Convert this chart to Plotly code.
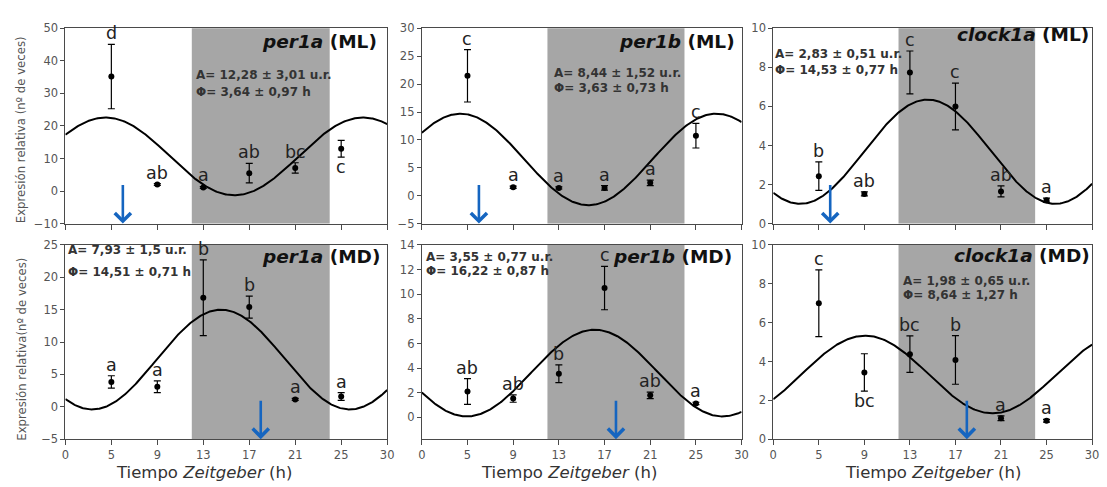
import numpy as np
import plotly.graph_objects as go

# ---------------- data ----------------
TICK_LABELS = [0, 5, 9, 13, 17, 21, 25, 30]          # labels shown on the ZT axis (evenly spaced)
ZT = [5, 9, 13, 17, 21, 25]                           # sampling times
NIGHT = [12, 24]                                      # dark phase (ZT)
FEED_ML = 6                                           # mid-light feeding time
FEED_MD = 18                                          # mid-dark feeding time

genes = ["per1a", "per1b", "clock1a", "per1a", "per1b", "clock1a"]
conds = ["ML", "ML", "ML", "MD", "MD", "MD"]

per1a_ML = [35.2, 2.0, 1.1, 5.5, 7.1, 13.0]
per1a_ML_err = [9.9, 0.3, 0.3, 3.0, 1.6, 2.6]
per1a_ML_let = ["d", "ab", "a", "ab", "bc", "c"]

per1b_ML = [21.5, 1.5, 1.4, 1.4, 2.3, 10.75]
per1b_ML_err = [4.7, 0.2, 0.2, 0.4, 0.5, 2.2]
per1b_ML_let = ["c", "a", "a", "a", "a", "c"]

clock1a_ML = [2.43, 1.52, 7.74, 6.0, 1.65, 1.2]
clock1a_ML_err = [0.73, 0.1, 1.1, 1.2, 0.28, 0.1]
clock1a_ML_let = ["b", "ab", "c", "c", "ab", "a"]

per1a_MD = [3.85, 3.1, 16.85, 15.4, 1.15, 1.6]
per1a_MD_err = [0.95, 0.9, 5.85, 1.7, 0.15, 0.6]
per1a_MD_let = ["a", "a", "b", "b", "a", "a"]

per1b_MD = [2.1, 1.53, 3.55, 10.5, 1.79, 1.13]
per1b_MD_err = [1.05, 0.3, 0.72, 1.76, 0.27, 0.1]
per1b_MD_let = ["ab", "ab", "b", "c", "ab", "a"]

clock1a_MD = [7.0, 3.44, 4.38, 4.08, 1.08, 0.95]
clock1a_MD_err = [1.72, 0.96, 0.94, 1.25, 0.12, 0.07]
clock1a_MD_let = ["c", "bc", "bc", "b", "a", "a"]

# letter placement: 'u' above the error bar, 'd' below
let_pos = [
    ["u", "u", "u", "u", "u", "d"],
    ["u"] * 6,
    ["u"] * 6,
    ["u"] * 6,
    ["u"] * 6,
    ["u", "d", "u", "u", "u", "u"],
]

# cosinor curves (as drawn)
MESOR = [10.65, 6.5, 3.68, 7.3, 3.6, 3.33]
AMP = [11.95, 8.2, 2.67, 7.7, 3.52, 2.0]
ACRO = [3.75, 3.63, 14.53, 14.51, 16.22, 8.64]
PERIOD = 24

stat_A = ["A= 12,28 ± 3,01 u.r.", "A= 8,44 ± 1,52 u.r.", "A= 2,83 ± 0,51 u.r.",
          "A= 7,93 ± 1,5 u.r.", "A= 3,55 ± 0,77 u.r.", "A= 1,98 ± 0,65 u.r."]
stat_P = ["Φ= 3,64 ± 0,97 h", "Φ= 3,63 ± 0,73 h", "Φ= 14,53 ± 0,77 h",
          "Φ= 14,51 ± 0,71 h", "Φ= 16,22 ± 0,87 h", "Φ= 8,64 ± 1,27 h"]

YRANGES = [[-10, 50], [-5, 30], [0, 10], [-5, 25], [-1.77, 14], [0, 10]]
YDTICK = [10, 5, 2, 5, 2, 2]

means = [per1a_ML, per1b_ML, clock1a_ML, per1a_MD, per1b_MD, clock1a_MD]
errs = [per1a_ML_err, per1b_ML_err, clock1a_ML_err, per1a_MD_err, per1b_MD_err, clock1a_MD_err]
lets = [per1a_ML_let, per1b_ML_let, clock1a_ML_let, per1a_MD_let, per1b_MD_let, clock1a_MD_let]
feeds = [FEED_ML, FEED_ML, FEED_ML, FEED_MD, FEED_MD, FEED_MD]

# ---------------- layout geometry ----------------
W, H = 1107, 487


def px_x(v):
    return v / W


def px_y(v):
    return 1 - v / H


XDOM = [[px_x(62), px_x(387)], [px_x(422), px_x(745)], [px_x(777), px_x(1099)]]
YDOM_TOP = [px_y(223), px_y(22)]
YDOM_BOT = [px_y(445), px_y(245)]

# positions in axis-domain fractions
title_pos = [(0.975, 0.935), (0.985, 0.935), (0.997, 0.97), (0.985, 0.94), (0.975, 0.94), (1.0, 0.945)]
stat_pos = [(0.40, 0.762, 0.673), (0.406, 0.772, 0.693), (0.0, 0.871, 0.787),
            (0.003, 0.975, 0.86), (0.006, 0.94, 0.865), (0.40, 0.815, 0.74)]
xtitle_x = [0.43, 0.46, 0.5]

AXMAX = 30.0
tickvals = [k * AXMAX / 7 for k in range(8)]


def zt_to_axis(v):
    return np.interp(v, TICK_LABELS, tickvals)


FONT = "DejaVu Sans, Arial, sans-serif"
GRAY_BAND = "#a6a6a6"
AXCOL = "#4a4a4a"
BLUE = "#1565c0"

fig = go.Figure()
shapes = []
annotations = []
layout = {}

t = np.linspace(0, AXMAX, 400)

for i in range(6):
    k = i + 1
    xa = "x" if k == 1 else f"x{k}"
    ya = "y" if k == 1 else f"y{k}"
    xkey = "xaxis" if k == 1 else f"xaxis{k}"
    ykey = "yaxis" if k == 1 else f"yaxis{k}"
    col = i % 3
    top = i < 3

    layout[xkey] = dict(
        domain=XDOM[col], anchor=ya, range=[0, AXMAX],
        tickmode="array", tickvals=tickvals,
        ticktext=[str(v) for v in TICK_LABELS],
        showticklabels=not top,
        ticks="outside", ticklen=5, tickcolor=AXCOL, tickwidth=1,
        showline=True, linecolor=AXCOL, linewidth=1, mirror=True,
        showgrid=False, zeroline=False,
        tickfont=dict(family=FONT, size=11.5, color="#555555"),
    )
    layout[ykey] = dict(
        domain=YDOM_TOP if top else YDOM_BOT, anchor=xa, range=YRANGES[i],
        tick0=0, dtick=YDTICK[i],
        ticks="outside", ticklen=4, tickcolor=AXCOL, tickwidth=1,
        showline=True, linecolor=AXCOL, linewidth=1, mirror=True,
        showgrid=False, zeroline=False,
        tickfont=dict(family=FONT, size=11.5, color="#555555"),
    )

    # dark phase band
    shapes.append(dict(type="rect", xref=xa, yref=f"{ya} domain",
                       x0=zt_to_axis(NIGHT[0]), x1=zt_to_axis(NIGHT[1]), y0=0, y1=1,
                       fillcolor=GRAY_BAND, line=dict(width=0), layer="below"))

    # cosinor curve
    yc = MESOR[i] + AMP[i] * np.cos(2 * np.pi * (t - ACRO[i]) / PERIOD)
    fig.add_trace(go.Scatter(x=t, y=yc, mode="lines", xaxis=xa, yaxis=ya,
                             line=dict(color="black", width=2), showlegend=False,
                             hoverinfo="skip"))

    # points with error bars
    xs = zt_to_axis(ZT)
    fig.add_trace(go.Scatter(x=xs, y=means[i], mode="markers", xaxis=xa, yaxis=ya,
                             marker=dict(color="black", size=6),
                             error_y=dict(type="data", array=errs[i], color="black",
                                          thickness=1.2, width=3.5),
                             showlegend=False))

    # significance letters
    for j in range(6):
        if let_pos[i][j] == "u":
            yv = means[i][j] + errs[i][j]
            annotations.append(dict(x=xs[j], y=yv, xref=xa, yref=ya, text=lets[i][j],
                                    showarrow=False, yanchor="bottom", xanchor="center",
                                    yshift=-1,
                                    font=dict(family=FONT, size=17.5, color="#222222")))
        else:
            yv = means[i][j] - errs[i][j]
            annotations.append(dict(x=xs[j], y=yv, xref=xa, yref=ya, text=lets[i][j],
                                    showarrow=False, yanchor="top", xanchor="center",
                                    yshift=2,
                                    font=dict(family=FONT, size=17.5, color="#222222")))

    # feeding-time arrow
    annotations.append(dict(x=zt_to_axis(feeds[i]), y=YRANGES[i][0], xref=xa, yref=ya,
                            ax=0, ay=-40, showarrow=True, arrowhead=4, arrowsize=1.2,
                            arrowwidth=2.6, arrowcolor=BLUE, text="", standoff=0))

    # gene title
    tx, ty = title_pos[i]
    annotations.append(dict(x=tx, y=ty, xref=f"{xa} domain", yref=f"{ya} domain",
                            text=f"<b><i>{genes[i]}</i> ({conds[i]})</b>",
                            showarrow=False, xanchor="right", yanchor="middle",
                            font=dict(family=FONT, size=18.5, color="#111111")))

    # cosinor statistics
    sx, sy1, sy2 = stat_pos[i]
    for txt, sy in ((stat_A[i], sy1), (stat_P[i], sy2)):
        annotations.append(dict(x=sx, y=sy, xref=f"{xa} domain", yref=f"{ya} domain",
                                text=f"<b>{txt}</b>", showarrow=False,
                                xanchor="left", yanchor="middle",
                                font=dict(family=FONT, size=12, color="#333333")))

    # x-axis title (bottom row)
    if not top:
        annotations.append(dict(x=xtitle_x[col], y=px_y(479), xref=f"{xa} domain",
                                yref="paper", text="Tiempo <i>Zeitgeber</i> (h)",
                                showarrow=False, xanchor="center", yanchor="middle",
                                borderpad=0,
                                font=dict(family=FONT, size=16.5, color="#333333")))

# y-axis titles
annotations.append(dict(x=px_x(18), y=px_y(126), xref="paper", yref="paper",
                        text="Expresión relativa (nº de veces)", textangle=-90,
                        showarrow=False, xanchor="center", yanchor="middle",
                        font=dict(family=FONT, size=11.7, color="#555555")))
annotations.append(dict(x=px_x(18), y=px_y(352), xref="paper", yref="paper",
                        text="Expresión relativa(nº de veces)", textangle=-90,
                        showarrow=False, xanchor="center", yanchor="middle",
                        font=dict(family=FONT, size=11.7, color="#555555")))

fig.update_layout(
    width=W, height=H,
    margin=dict(l=0, r=0, t=0, b=0),
    paper_bgcolor="white", plot_bgcolor="white",
    shapes=shapes, annotations=annotations,
    showlegend=False,
    **layout,
)

fig.write_html(
    "out.html",
    config={"displayModeBar": False},
    post_script="document.body.style.margin='0';document.body.style.overflow='hidden';",
)
